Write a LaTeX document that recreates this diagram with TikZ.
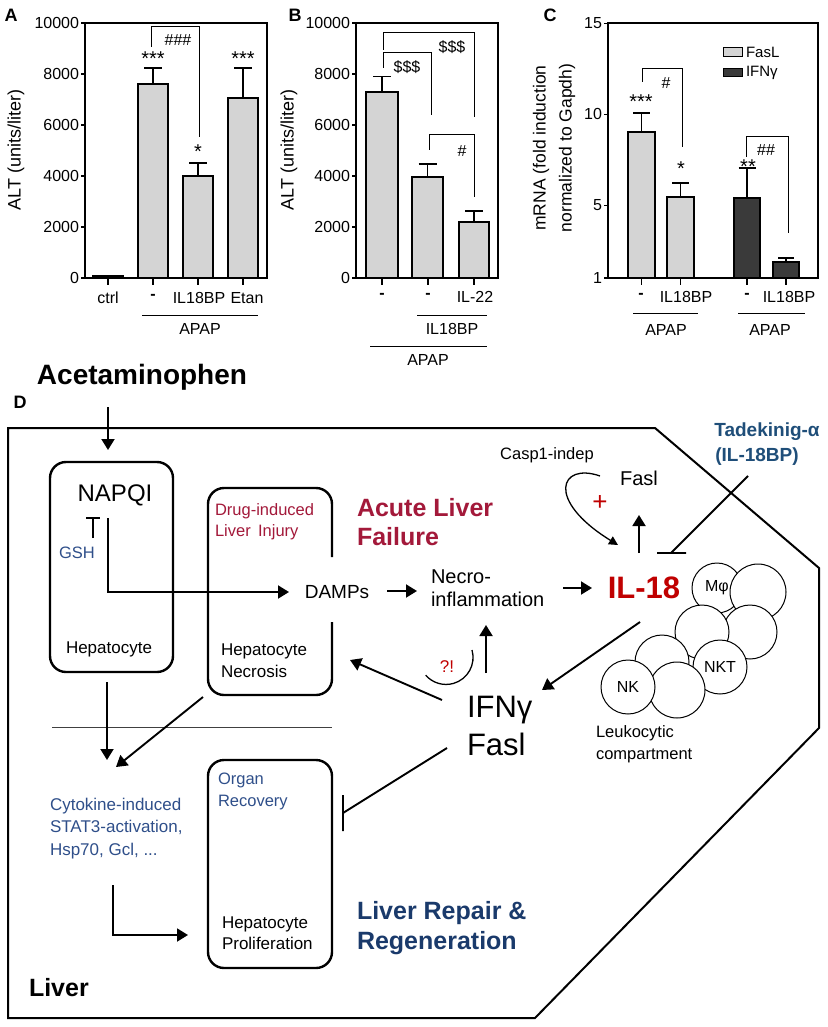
\documentclass[tikz,border=0pt]{standalone}
\usepackage{fontspec}
\setmainfont{Liberation Sans}
\usetikzlibrary{arrows.meta}
\definecolor{barlight}{HTML}{D4D4D4}
\definecolor{bardark}{HTML}{3A3A3A}
\definecolor{dred}{HTML}{A3193A}
\definecolor{ired}{HTML}{C00000}
\definecolor{nblue}{HTML}{1F4E79}
\definecolor{tblue}{HTML}{2F4F8A}
\definecolor{navy}{HTML}{1A3A6B}
\newcommand\myfs[2]{\fontsize{#1}{#2}\selectfont}
\begin{document}
\begin{tikzpicture}[x=1pt,y=-1pt,
  every node/.style={inner sep=0pt, outer sep=0pt},
  bar/.style={draw=black, line width=1.1pt},
  frame/.style={line width=1.3pt},
  sig/.style={line width=1pt},
  err/.style={line width=1.1pt},
  lab/.style={font=\myfs{16}{19}},
  star/.style={font=\myfs{20}{20}},
  plabel/.style={font=\bfseries\myfs{18}{18}},
  arr/.style={line width=1.9pt, -{Triangle[length=11pt,width=13pt]}},
  tarr/.style={line width=1.3pt, -{Triangle[length=9pt,width=9pt]}},
  inh/.style={line width=1.9pt},
  box/.style={draw, line width=2.4pt, rounded corners=16pt},
  cell/.style={circle, draw, fill=white, line width=1pt, font=\myfs{16}{16}}
]
\useasboundingbox (0,0) rectangle (827,1027);
\fill[white] (0,0) rectangle (827,1027);

% ---------------- Panel A ----------------
\node[plabel] (labA) at (11,15) {A};
\draw[frame] (85,23) rectangle (267,278);
\foreach \v [count=\i] in {0,2000,4000,6000,8000,10000} {
  \pgfmathsetmacro\yy{278-0.0255*\v}
  \draw[frame] (81,\yy) -- (85,\yy);
  \node[lab, anchor=east] (ya\i) at (79,\yy) {\v};
}
\node[rotate=90, font=\myfs{18}{18}] (ylabA) at (16,150) {ALT (units/liter)};
\draw[bar, fill=black] (93,278) rectangle (123,275.5);
\draw[bar, fill=barlight] (138,278) rectangle (168,84);
\draw[err] (153,84) -- (153,68) (144,68) -- (162,68);
\draw[bar, fill=barlight] (183,278) rectangle (213,176);
\draw[err] (198,176) -- (198,163) (189,163) -- (207,163);
\draw[bar, fill=barlight] (228,278) rectangle (258,98);
\draw[err] (243,98) -- (243,68) (234,68) -- (252,68);
\foreach \x in {108,153,198,243} \draw[frame] (\x,278) -- (\x,285);
\node[lab] (xa1) at (108,298) {ctrl};
\node[lab] (xa2) at (153,297) {\textbf{-}};
\node[lab] (xa3) at (199,298) {IL18BP};
\node[lab] (xa4) at (247,298) {Etan};
\draw[line width=1pt] (142,315) -- (258,315);
\node[lab] (apapA) at (200,329) {APAP};
\draw[sig] (151,47) -- (151,27) -- (199,27) -- (199,137);
\node[lab] (hA) at (178,40) {\#\#\#};
\node[star] (sA1) at (153,59) {***};
\node[star] (sA2) at (198,152) {*};
\node[star] (sA3) at (243,59) {***};

% ---------------- Panel B ----------------
\node[plabel] (labB) at (295,15) {B};
\draw[frame] (356,23) rectangle (498,278);
\foreach \v [count=\i] in {0,2000,4000,6000,8000,10000} {
  \pgfmathsetmacro\yy{278-0.0255*\v}
  \draw[frame] (352,\yy) -- (356,\yy);
  \node[lab, anchor=east] (yb\i) at (350,\yy) {\v};
}
\node[rotate=90, font=\myfs{18}{18}] (ylabB) at (289,150) {ALT (units/liter)};
\draw[bar, fill=barlight] (366,278) rectangle (398,92);
\draw[err] (382,92) -- (382,76.5) (373,76.5) -- (391,76.5);
\draw[bar, fill=barlight] (412,278) rectangle (443,177);
\draw[err] (427.5,177) -- (427.5,164) (418.5,164) -- (436.5,164);
\draw[bar, fill=barlight] (459,278) rectangle (489,222);
\draw[err] (474,222) -- (474,211) (465,211) -- (483,211);
\foreach \x in {382,428,474} \draw[frame] (\x,278) -- (\x,285);
\node[lab] (xb1) at (382,296) {\textbf{-}};
\node[lab] (xb2) at (428,296) {\textbf{-}};
\node[lab] (xb3) at (475,297) {IL-22};
\draw[line width=1pt] (417,315) -- (487,315);
\node[lab] (ilB) at (452,329) {IL18BP};
\draw[line width=1pt] (370,346) -- (487,346);
\node[lab] (apapB) at (428,360) {APAP};
\draw[sig] (383,50) -- (383,33) -- (474,33) -- (474,117);
\node[lab] (dB1) at (452,47) {\$\$\$};
\draw[sig] (383,68) -- (383,53) -- (431,53) -- (431,115);
\node[lab] (dB2) at (407,67) {\$\$\$};
\draw[sig] (429,150) -- (429,135) -- (474,135) -- (474,197);
\node[lab] (hB) at (462,151) {\#};

% ---------------- Panel C ----------------
\node[plabel] (labC) at (550,15) {C};
\draw[frame] (608,23) rectangle (818,278);
\foreach \v [count=\i] in {1,5,10,15} {
  \pgfmathsetmacro\yy{278-18.2*(\v-1)}
  \draw[frame] (604,\yy) -- (608,\yy);
  \node[lab, anchor=east] (yc\i) at (602,\yy) {\v};
}
\node[rotate=90, align=center, font=\myfs{17.5}{26}] (ylabC) at (554,148) {mRNA (fold induction\\normalized to Gapdh)};
\draw[bar, fill=barlight] (628,278) rectangle (655,132);
\draw[err] (641.5,132) -- (641.5,113) (633,113) -- (650,113);
\draw[bar, fill=barlight] (667,278) rectangle (694,197);
\draw[err] (680.5,197) -- (680.5,183) (672,183) -- (689,183);
\draw[bar, fill=bardark] (734,278) rectangle (760,198);
\draw[err] (747,198) -- (747,168) (738.5,168) -- (755.5,168);
\draw[bar, fill=bardark] (773,278) rectangle (799,262);
\draw[err] (786,262) -- (786,258) (778,258) -- (794,258);
\foreach \x in {641.5,680.5,747,786} \draw[frame] (\x,278) -- (\x,285);
\node[lab] (xc1) at (641,296) {\textbf{-}};
\node[lab] (xc2) at (686,297) {IL18BP};
\node[lab] (xc3) at (747,296) {\textbf{-}};
\node[lab] (xc4) at (789,297) {IL18BP};
\draw[line width=1pt] (633,313) -- (698,313);
\draw[line width=1pt] (738,313) -- (805,313);
\node[lab] (apapC1) at (666,330) {APAP};
\node[lab] (apapC2) at (770,330) {APAP};
\draw[sig] (642,82) -- (642,69) -- (682,69) -- (682,147);
\node[lab] (hC1) at (666,83) {\#};
\draw[sig] (746,157) -- (746,137) -- (788,137) -- (788,233);
\node[lab] (hC2) at (766,150) {\#\#};
\node[star] (sC1) at (641,102) {***};
\node[star] (sC2) at (681,169) {*};
\node[star] (sC3) at (748,167) {**};
\draw[line width=1pt, fill=barlight] (723,48) rectangle (742,57);
\node[font=\myfs{15}{15}, anchor=west] (legF) at (746,52) {FasL};
\draw[line width=1pt, fill=bardark] (723,69) rectangle (742,77);
\node[font=\myfs{15}{15}, anchor=west] (legI) at (746,73) {IFNγ};

% ---------------- Panel D ----------------
\node[font=\bfseries\myfs{28}{28}] (acet) at (142,377) {Acetaminophen};
\node[plabel] (labD) at (20,402) {D};
\draw[line width=2pt] (8,428) -- (655,428) -- (819,568) -- (819,728) -- (535,1018) -- (8,1018) -- cycle;

\coordinate (a1s) at (108,407);
\coordinate (a1e) at (108,450);
\draw[arr] (a1s) -- (a1e);

% Hepatocyte box
\node[box, minimum width=123pt, minimum height=210pt] (hep) at (111.5,567) {};
\node[font=\myfs{24}{24}] (napqi) at (115,495) {NAPQI};
\draw[inh] (93,538) -- (93,518) (86,518) -- (100,518);
\node[font=\myfs{16.5}{16.5}, text=tblue] (gsh) at (77,553) {GSH};
\node[font=\myfs{17}{17}] (hepT) at (109,649) {Hepatocyte};

% Necrosis box
\draw[line width=2.4pt, rounded corners=16pt] (332,557) -- (332,488) -- (208,488) -- (208,695) -- (332,695) -- (332,622);
\node[font=\myfs{16.5}{21}, text=dred, align=left, anchor=west] (dili) at (215,521.5) {Drug-induced\\Liver\, Injury};
\node[font=\myfs{17}{22}, align=left, anchor=west] (necT) at (221,661) {Hepatocyte\\Necrosis};

\node[font=\myfs{19}{19}] (damps) at (337,592) {DAMPs};
\coordinate (n1) at (108,518);
\coordinate (n2) at (108,592);
\coordinate (n3) at (289,592);
\draw[arr] (n1) -- (n2) -- (n3);

\node[font=\bfseries\myfs{25}{29}, text=dred, align=left, anchor=west] (alf) at (357,522.5) {Acute Liver\\Failure};

\node[font=\myfs{20}{23}, align=left, anchor=west] (necro) at (431,588.5) {Necro-\\inflammation};
\coordinate (d1) at (387,591);
\coordinate (d2) at (417,591);
\draw[arr] (d1) -- (d2);
\coordinate (e1) at (563,588);
\coordinate (e2) at (592,588);
\draw[arr] (e1) -- (e2);

\node[font=\bfseries\myfs{31}{31}, text=ired] (il18) at (644,588) {IL-18};
\node[font=\myfs{20}{20}] (fasl1) at (639,478) {Fasl};
\coordinate (f1) at (639,553);
\coordinate (f2) at (639,515);
\draw[arr] (f1) -- (f2);
\node[font=\myfs{16.5}{16.5}] (casp) at (547,455) {Casp1-indep};
\coordinate (c1s) at (600,476);
\coordinate (c1e) at (618,545);
\draw[tarr] (c1s) .. controls (560,462) and (545,500) .. (c1e);
\node[font=\myfs{26}{26}, text=ired] (plus) at (600,503) {+};

\node[font=\bfseries\myfs{19}{19}, text=nblue] (tade) at (767,432) {Tadekinig-α};
\node[font=\bfseries\myfs{19}{19}, text=nblue] (tade2) at (757,457) {(IL-18BP)};
\coordinate (t1) at (748,476);
\coordinate (t2) at (671,553);
\draw[inh] (t1) -- (t2) (657,553) -- (686,553);

% cells
\node[cell, minimum size=50pt] (cMp) at (717,588) {Mφ};
\node[cell, minimum size=56pt] (cB) at (758,592) {};
\node[cell, minimum size=54pt] (cD) at (750,632) {};
\node[cell, minimum size=54pt] (cC) at (702,632) {};
\node[cell, minimum size=54pt] (cNKT) at (720,667) {NKT};
\node[cell, minimum size=54pt] (cF) at (662,662) {};
\node[cell, minimum size=56pt] (cH) at (677,690) {};
\node[cell, minimum size=54pt] (cNK) at (628,687) {NK};
\node[font=\myfs{16.5}{22}, align=left, anchor=west] (leuk) at (596,744) {Leukocytic\\compartment};

% IFNg / Fasl
\node[font=\myfs{31}{38}, align=left, anchor=west] (ifn) at (467,726) {IFNγ\\Fasl};
\coordinate (g1) at (640,622);
\coordinate (g2) at (542,690);
\draw[arr] (g1) -- (g2);
\coordinate (h1) at (486,673);
\coordinate (h2) at (486,625);
\draw[arr] (h1) -- (h2);
\node[font=\myfs{17}{17}, text=ired] (qe) at (447,667) {?!};
\draw[line width=1.3pt] (472,650) arc[start angle=-16, end angle=139, radius=27];
\coordinate (k1) at (442,700);
\coordinate (k2) at (350,660);
\draw[arr] (k1) -- (k2);
\coordinate (m1) at (447,748);
\coordinate (m2) at (343,813);
\draw[inh] (m1) -- (m2) (343,795) -- (343,831);

% lower left
\draw[line width=1pt, black!75] (52,727) -- (332,727);
\coordinate (p1) at (107,682);
\coordinate (p2) at (107,760);
\draw[arr] (p1) -- (p2);
\coordinate (q1) at (203,697);
\coordinate (q2) at (116,767);
\draw[arr] (q1) -- (q2);
\node[font=\myfs{17}{22.5}, text=tblue, align=left, anchor=west] (cyto) at (50,828.5) {Cytokine-induced\\STAT3-activation,\\Hsp70, Gcl, ...};

\node[box, minimum width=124pt, minimum height=208pt] (rec) at (270,864) {};
\node[font=\myfs{16.5}{22}, text=tblue, align=left, anchor=west] (organ) at (218,791) {Organ\\Recovery};
\node[font=\myfs{17}{20.5}, align=left, anchor=west] (prol) at (222,933) {Hepatocyte\\Proliferation};
\coordinate (r1) at (113,885);
\coordinate (r2) at (113,935);
\coordinate (r3) at (188,935);
\draw[arr] (r1) -- (r2) -- (r3);

\node[font=\bfseries\myfs{25}{25}, anchor=west] (liver) at (29,988) {Liver};
\node[font=\bfseries\myfs{25}{30}, text=navy, align=left, anchor=west] (repair) at (357,928) {Liver Repair \&\\Regeneration};
\end{tikzpicture}
\end{document}
